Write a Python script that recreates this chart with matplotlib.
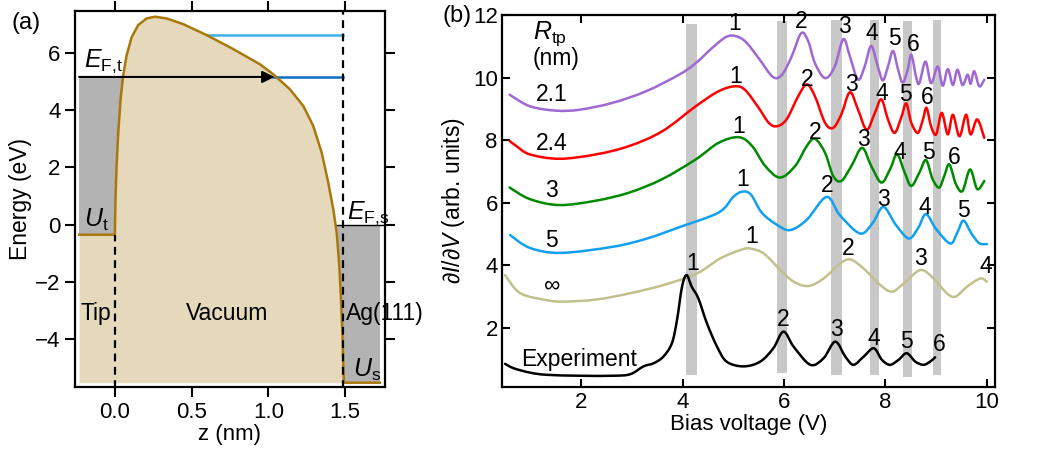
import numpy as np
import matplotlib
matplotlib.use('Agg')
import matplotlib.pyplot as plt
from matplotlib.path import Path
from matplotlib.patches import PathPatch

plt.rcParams['font.family'] = ['Liberation Sans', 'DejaVu Sans']
plt.rcParams['mathtext.fontset'] = 'custom'
plt.rcParams['mathtext.rm'] = 'Liberation Sans'
plt.rcParams['mathtext.it'] = 'Liberation Sans:italic'
plt.rcParams['font.size'] = 16

# ---- panel (a): potential profile ----
z_pot = [-0.233, 0.0, 0.004, 0.011, 0.022, 0.037, 0.054, 0.076, 0.109, 0.152, 0.207,
         0.261, 0.337, 0.446, 0.598, 0.772, 0.946, 1.033, 1.141, 1.228, 1.293, 1.348,
         1.391, 1.424, 1.446, 1.463, 1.474, 1.483, 1.489, 1.493, 1.728]
e_pot = [-0.35, -0.35, 0.87, 2.04, 3.2, 4.37, 5.19, 5.89, 6.53, 6.96, 7.19,
         7.25, 7.19, 6.99, 6.61, 6.12, 5.59, 5.24, 4.72, 4.14, 3.44, 2.51,
         1.46, 0.52, -0.29, -1.46, -2.62, -3.79, -4.95, -5.51, -5.51]
E_Ft = 5.15
E_level2 = 6.6
U_t = -0.35
U_s = -5.51
z_tip = 0.0
z_surf = 1.489

# ---- panel (b): dI/dV spectra ----
v_purple = [0.59, 0.99, 1.51, 1.97, 2.62, 3.28, 3.93, 4.26, 4.58, 4.85, 5.03, 5.24, 5.50, 5.78,
            5.96, 6.15, 6.34, 6.48, 6.61, 6.81, 7.00, 7.17, 7.30, 7.46, 7.59, 7.72, 7.85, 7.95,
            8.05, 8.15, 8.25, 8.34, 8.44, 8.51, 8.61, 8.67, 8.79, 8.90, 9.03, 9.13, 9.23, 9.33,
            9.42, 9.52, 9.62, 9.68, 9.75, 9.85, 9.95]
s_purple = [9.45, 9.08, 8.94, 8.97, 9.19, 9.56, 10.09, 10.46, 10.94, 11.29, 11.33, 11.15, 10.62, 10.02,
            10.09, 10.67, 11.42, 11.15, 10.46, 9.98, 10.35, 11.23, 10.67, 9.93, 10.35, 11.01, 10.35, 9.91,
            10.35, 10.85, 10.25, 9.84, 10.25, 10.73, 9.98, 9.82, 10.51, 9.82, 10.35, 9.74, 10.27, 9.76,
            10.25, 9.76, 10.09, 9.80, 10.20, 9.72, 9.93]

v_red = [0.59, 0.72, 0.99, 1.57, 2.29, 2.95, 3.60, 4.26, 4.71, 5.04, 5.24, 5.50, 5.70, 5.86,
         6.05, 6.28, 6.45, 6.61, 6.81, 6.97, 7.13, 7.30, 7.46, 7.63, 7.79, 7.92, 8.05, 8.18,
         8.31, 8.41, 8.51, 8.64, 8.74, 8.81, 8.90, 9.00, 9.11, 9.23, 9.33, 9.46, 9.59, 9.68,
         9.81, 9.95]
s_red = [7.97, 7.81, 7.54, 7.40, 7.54, 7.81, 8.28, 9.08, 9.56, 9.72, 9.59, 9.03, 8.55, 8.44,
         8.66, 9.40, 9.78, 9.40, 8.55, 8.39, 8.82, 9.53, 8.97, 8.33, 8.86, 9.30, 8.66, 8.23,
         8.71, 9.17, 8.55, 8.23, 8.66, 9.03, 8.44, 8.18, 8.87, 8.18, 8.81, 8.12, 8.81, 8.18,
         8.66, 8.07]

v_green = [0.59, 0.99, 1.57, 2.29, 2.95, 3.60, 4.26, 4.71, 5.11, 5.37, 5.63, 5.92, 6.22, 6.45,
           6.61, 6.81, 6.97, 7.13, 7.33, 7.54, 7.72, 7.92, 8.09, 8.23, 8.38, 8.51, 8.67, 8.80,
           8.93, 9.06, 9.16, 9.26, 9.39, 9.52, 9.67, 9.81, 9.95]
s_green = [6.48, 6.11, 5.92, 6.06, 6.32, 6.75, 7.38, 7.91, 8.09, 7.81, 7.17, 6.80, 7.17, 7.81,
           8.04, 7.59, 6.85, 6.69, 7.17, 7.75, 7.17, 6.64, 7.06, 7.54, 6.96, 6.53, 6.96, 7.36,
           6.75, 6.48, 6.85, 7.22, 6.59, 6.37, 7.06, 6.43, 6.69]

v_blue = [0.60, 0.99, 1.60, 2.64, 3.30, 3.95, 4.71, 5.00, 5.18, 5.35, 5.56, 5.85, 6.12, 6.45,
          6.84, 7.10, 7.50, 7.75, 7.96, 8.20, 8.46, 8.65, 8.80, 9.00, 9.28, 9.42, 9.54, 9.70,
          9.85, 10.0]
s_blue = [4.96, 4.55, 4.39, 4.59, 4.85, 5.22, 5.68, 6.18, 6.35, 6.25, 5.68, 5.30, 5.12, 5.45,
          6.18, 5.60, 5.01, 5.35, 5.86, 5.30, 4.85, 5.20, 5.63, 5.15, 4.69, 5.05, 5.42, 5.00,
          4.70, 4.67]

v_khaki = [0.50, 0.80, 1.32, 1.65, 2.31, 2.97, 3.62, 4.28, 4.74, 5.14, 5.33, 5.60, 5.93, 6.19,
           6.48, 6.78, 7.11, 7.31, 7.57, 7.90, 8.13, 8.36, 8.69, 8.95, 9.21, 9.38, 9.61, 9.87,
           10.0]
s_khaki = [3.68, 3.10, 2.88, 2.83, 2.90, 3.10, 3.36, 3.73, 4.21, 4.48, 4.53, 4.37, 3.84, 3.47,
           3.33, 3.57, 4.05, 4.18, 3.89, 3.36, 3.15, 3.41, 3.84, 3.57, 3.10, 2.99, 3.31, 3.57,
           3.47]

v_exp = [0.50, 0.67, 0.99, 1.32, 1.98, 2.64, 2.97, 3.23, 3.43, 3.62, 3.79, 3.89, 3.99, 4.08,
         4.18, 4.31, 4.48, 4.68, 4.87, 5.20, 5.53, 5.79, 5.99, 6.19, 6.52, 6.78, 7.01, 7.21,
         7.37, 7.57, 7.77, 7.93, 8.09, 8.26, 8.42, 8.59, 8.75, 8.88, 8.98]
s_exp = [0.84, 0.70, 0.56, 0.49, 0.46, 0.46, 0.51, 0.76, 0.86, 1.07, 1.50, 2.24, 3.31, 3.68,
         3.31, 2.94, 2.14, 1.39, 0.91, 0.76, 0.91, 1.34, 1.87, 1.39, 0.81, 1.02, 1.55, 1.07,
         0.81, 1.07, 1.34, 0.97, 0.81, 0.97, 1.18, 0.91, 0.81, 0.91, 1.05]

# gray guide bars (experimental peak positions)
bar_v = [4.18, 5.965, 7.03, 7.79, 8.435, 9.015]
bar_w = [0.21, 0.19, 0.22, 0.18, 0.19, 0.17]
bar_lo = [0.49, 0.56, 0.49, 0.49, 0.43, 0.49]
bar_hi = [11.71, 11.8, 11.84, 11.84, 11.8, 11.84]

radius_labels = ['2.1', '2.4', '3', '5', '\u221e']
radius_label_y = [9.45, 7.9, 6.37, 4.8, 3.36]

# peak number labels (x, y) per curve
pk_purple = [(5.03, 11.73), (6.34, 11.8), (7.20, 11.63), (7.74, 11.42), (8.18, 11.26), (8.54, 11.04)]
pk_red = [(5.04, 10.04), (6.45, 9.93), (7.33, 9.77), (7.92, 9.5), (8.40, 9.45), (8.83, 9.35)]
pk_green = [(5.11, 8.44), (6.61, 8.23), (7.57, 8.02), (8.29, 7.59), (8.84, 7.59), (9.36, 7.43)]
pk_blue = [(5.19, 6.75), (6.86, 6.53), (7.96, 6.11), (8.78, 5.84), (9.53, 5.74)]
pk_khaki = [(5.37, 4.9), (7.27, 4.53), (8.70, 4.21), (9.97, 3.95)]
pk_exp = [(4.20, 4.05), (5.99, 2.27), (7.03, 1.95), (7.78, 1.66), (8.42, 1.55), (9.07, 1.45)]


def smooth_path(x, y):
    # smooth Bezier path through the read points (Catmull-Rom tangents)
    p = np.column_stack([x, y])
    n = len(p)
    verts = [p[0]]
    codes = [Path.MOVETO]
    for i in range(n - 1):
        p0 = p[max(i - 1, 0)]
        p1 = p[i]
        p2 = p[i + 1]
        p3 = p[min(i + 2, n - 1)]
        verts += [p1 + (p2 - p0) / 6, p2 - (p3 - p1) / 6, p2]
        codes += [Path.CURVE4] * 3
    return Path(verts, codes)


fig = plt.figure(figsize=(10.4, 4.5), dpi=100)
ax1 = fig.add_axes([0.0721, 0.14, 0.298, 0.8356])
ax2 = fig.add_axes([0.4827, 0.14, 0.474, 0.8267])

tan = '#e6d8bb'
brown = '#a8780c'
gray = '#b3b3b3'

# panel (a)
ax1.fill_between([-0.233, 0.06], U_t, E_Ft, color=gray, lw=0, zorder=1)
ax1.fill_between([1.44, 1.728], U_s, 0, color=gray, lw=0, zorder=1)
ax1.fill_between(z_pot, U_s, e_pot, color=tan, lw=0, zorder=2)
ax1.plot(z_pot, e_pot, color=brown, lw=1.8, zorder=4)
ax1.plot([1.44, 1.76], [0, 0], color='black', lw=1.0, zorder=3)
ax1.plot([0.6, z_surf], [E_level2, E_level2], color='#3fb0e8', lw=1.8, zorder=3)
ax1.plot([1.03, z_surf], [E_Ft, E_Ft], color='#0a6fc0', lw=1.8, zorder=3)
ax1.annotate('', xy=(1.04, E_Ft), xytext=(-0.233, E_Ft),
             arrowprops=dict(arrowstyle='-|>', color='black', lw=1.5, mutation_scale=18,
                             shrinkA=0, shrinkB=0), zorder=5)
ax1.plot([z_tip, z_tip], [-5.7, U_t], color='black', lw=1.6, ls=(0, (3.5, 2.5)), zorder=5)
ax1.plot([z_surf, z_surf], [-5.7, 7.5], color='black', lw=1.6, ls=(0, (3.5, 2.5)), zorder=5)

ax1.text(-0.2, 5.5, r'$E_{\mathrm{F{,}t}}$', fontsize=18, va='baseline', zorder=6)
ax1.text(-0.2, -0.06, r'$U_{\mathrm{t}}$', fontsize=18, va='baseline', zorder=6)
ax1.text(1.51, 0.22, r'$E_{\mathrm{F{,}s}}$', fontsize=18, va='baseline', zorder=6)
ax1.text(1.55, -5.3, r'$U_{\mathrm{s}}$', fontsize=18, va='baseline', zorder=6)
ax1.text(-0.225, -3.08, 'Tip', fontsize=16.5, va='center', zorder=6)
ax1.text(0.73, -3.08, 'Vacuum', fontsize=16.5, va='center', ha='center', zorder=6)
ax1.text(1.505, -3.08, 'Ag(111)', fontsize=16.5, va='center', zorder=6, clip_on=False)

ax1.set_xlim(-0.26, 1.76)
ax1.set_ylim(-5.66, 7.45)
ax1.set_xticks([0.0, 0.5, 1.0, 1.5])
ax1.set_xticklabels(['0.0', '0.5', '1.0', '1.5'])
ax1.set_yticks([-4, -2, 0, 2, 4, 6])
ax1.set_yticklabels(['\u22124', '\u22122', '0', '2', '4', '6'])
ax1.tick_params(direction='out', length=7, width=1.5, top=True, right=True, labelsize=16)
ax1.set_xlabel('z (nm)', fontsize=16, labelpad=1)
ax1.set_ylabel('Energy (eV)', fontsize=16.5, labelpad=2)
for sp in ax1.spines.values():
    sp.set_linewidth(1.6)
    sp.set_zorder(7)

# panel (b)
ax2.bar(bar_v, np.array(bar_hi) - np.array(bar_lo), bottom=bar_lo, width=bar_w,
        color='#c8c8c8', lw=0, zorder=1)
curves = [(v_purple, s_purple, '#9f68d2', pk_purple),
          (v_red, s_red, '#ff0000', pk_red),
          (v_green, s_green, '#008a00', pk_green),
          (v_blue, s_blue, '#10a0f0', pk_blue),
          (v_khaki, s_khaki, '#c2c08c', pk_khaki),
          (v_exp, s_exp, 'black', pk_exp)]
for v, s, c, pks in curves:
    ax2.add_patch(PathPatch(smooth_path(v, s), fill=False, edgecolor=c, lw=1.8,
                            joinstyle='round', capstyle='round', zorder=3))
    for i, (px, py) in enumerate(pks):
        ax2.text(px, py, str(i + 1), fontsize=16.5, ha='center', va='center', zorder=4)

for lab, y in zip(radius_labels, radius_label_y):
    ax2.text(1.42, y, lab, fontsize=16.5, ha='center', va='center', zorder=4)
ax2.text(1.05, 11.4, r'$R_{\mathrm{tp}}$', fontsize=18, va='center')
ax2.text(1.05, 10.6, '(nm)', fontsize=16.5, va='center')
ax2.text(1.96, 0.97, 'Experiment', fontsize=16.5, ha='center', va='center', zorder=4)

ax2.set_xlim(0.44, 10.16)
ax2.set_ylim(0.1, 12)
ax2.set_xticks([2, 4, 6, 8, 10])
ax2.set_yticks([2, 4, 6, 8, 10, 12])
ax2.tick_params(direction='in', length=6, width=1.5, top=True, right=True, labelsize=16)
ax2.tick_params(axis='y', pad=3)
ax2.set_xlabel('Bias voltage (V)', fontsize=16, labelpad=1)
ax2.set_ylabel(r'$\partial I/\partial V$ (arb. units)', fontsize=16.5, labelpad=4)
for sp in ax2.spines.values():
    sp.set_linewidth(1.6)
    sp.set_zorder(7)

fig.text(0.011, 0.935, '(a)', fontsize=17)
fig.text(0.425, 0.952, '(b)', fontsize=17)

fig.savefig('out.png', dpi=100)
